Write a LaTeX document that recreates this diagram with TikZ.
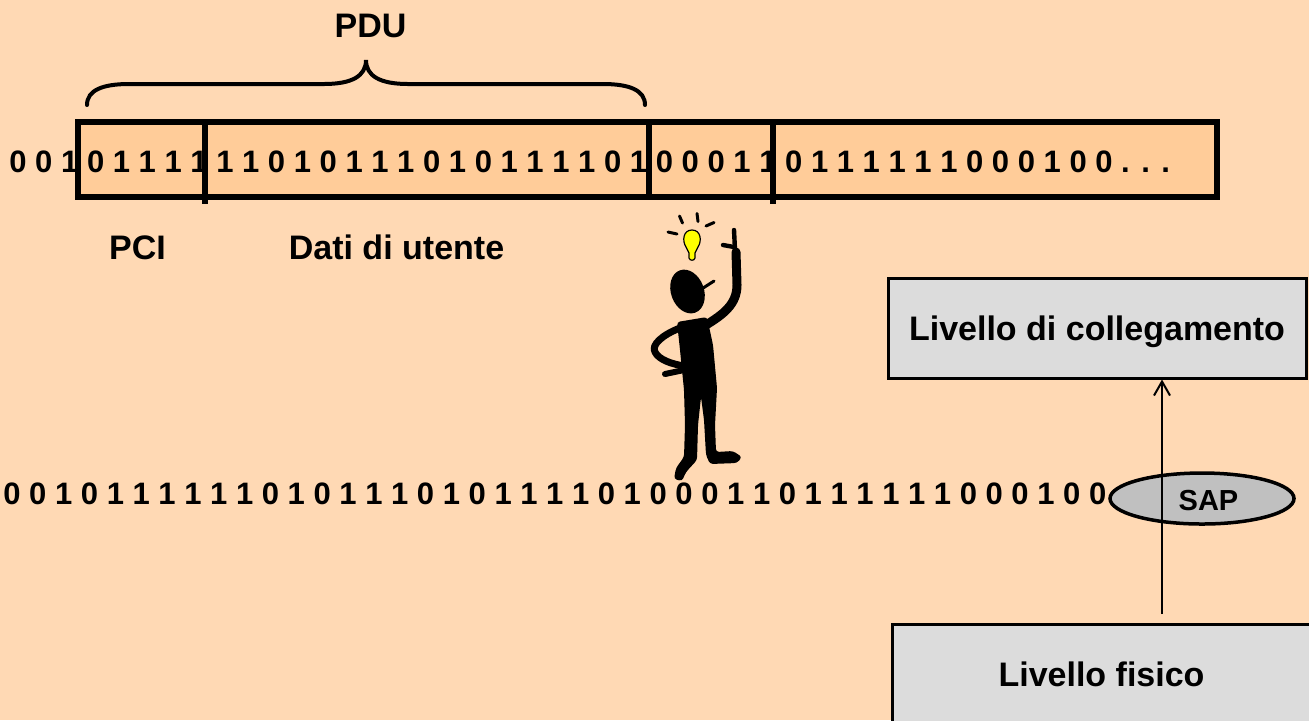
\documentclass[tikz,border=0pt]{standalone}
\usepackage{fontspec}
\setmainfont{Liberation Sans}
\usetikzlibrary{arrows.meta,shapes.geometric}
\definecolor{bgpeach}{RGB}{255,217,180}
\definecolor{cellfill}{RGB}{255,204,153}
\definecolor{boxgray}{RGB}{220,220,220}
\definecolor{sapgray}{RGB}{192,192,192}
\definecolor{bulbyellow}{RGB}{255,255,0}

\begin{document}
\begin{tikzpicture}[x=0.5pt,y=-0.5pt,
  bits/.style={font=\fontsize{15.5}{18}\selectfont\bfseries, inner sep=0pt, anchor=base west},
  tag/.style={font=\fontsize{17}{20}\selectfont\bfseries, inner sep=0pt, anchor=base},
  layer/.style={draw=black, line width=1.5pt, fill=boxgray,
    font=\fontsize{17}{20}\selectfont\bfseries, minimum width=209pt,
    minimum height=50pt, inner sep=0pt, text depth=0pt},
  frameline/.style={line width=3pt},
  limb/.style={line cap=round, line join=round},
]
\useasboundingbox (0,0) rectangle (1309,720);
\clip (0,0) rectangle (1309,720);
\fill[bgpeach] (0,0) rectangle (1309,720);

% frame of the received bit sequence
\fill[cellfill] (78,122) rectangle (1217,197);
\draw[frameline] (78,122) rectangle (1217,197);
\draw[frameline] (205,122) -- (205,204);
\draw[frameline] (649,122) -- (649,197);
\draw[frameline] (773,122) -- (773,204);

% bits, grouped by field
\node[bits] (lead)  at (9,172)     {0 0 1};
\node[bits] (pcib)  at (86.6,172)  {0 1 1 1 1};
\node[bits] (datab) at (215.9,172) {1 1 0 1 0 1 1 1 0 1 0 1 1 1 1 0 1};
\node[bits] (nextb) at (655.5,172) {0 0 0 1 1};
\node[bits] (restb) at (784.8,172) {0 1 1 1 1 1 1 0 0 0 1 0 0 . . .};

% brace over the PDU
\draw[line width=2pt, line cap=round] (87,105) .. controls (87,90) and (103,84) .. (129,84)
  -- (324,84) .. controls (352,84) and (366,76) .. (366,60)
  .. controls (366,76) and (380,84) .. (408,84)
  -- (603,84) .. controls (629,84) and (645,90) .. (645,105);

\node[tag] (pdu)  at (370.5,37)  {PDU};
\node[tag] (pci)  at (137.5,259) {PCI};
\node[tag] (dati) at (396.5,259) {Dati di utente};

% raw bit stream
\node[bits] (stream) at (3,504) {0 0 1 0 1 1 1 1 1 1 0 1 0 1 1 1 0 1 0 1 1 1 1 0 1 0 0 0 1 1 0 1 1 1 1 1 1 0 0 0 1 0 0};

% layers and service access point
\node[layer] (coll) at (1097,328)   {Livello di collegamento};
\node[layer] (fis)  at (1101.5,674) {Livello fisico};
\node[ellipse, draw=black, line width=1.75pt, fill=sapgray, minimum width=92pt,
      minimum height=25.5pt, inner sep=0pt] (sap) at (1202,498.5) {};
\node[font=\fontsize{14.5}{17}\selectfont\bfseries, inner sep=0pt, anchor=base] (saptext) at (1208.5,510) {SAP};
\coordinate (foot) at (1162,614);
\draw[line width=1pt, -{Straight Barb[length=7pt,width=8pt]}] (foot) -- (coll.south -| foot);

% the little man with an idea
\draw[line width=1.5pt, line cap=round] (668,232) -- (677,234);
\draw[line width=1.5pt, line cap=round] (679.5,216) -- (682.5,223);
\draw[line width=1.5pt, line cap=round] (697,213.5) -- (698,221.5);
\draw[line width=1.5pt, line cap=round] (706,226) -- (714,222.5);
\filldraw[fill=bulbyellow, line width=0.6pt] (686,247) .. controls (682,241) and (683,230) .. (692,230)
  .. controls (701,230) and (702,241) .. (698,247) -- (695,253) -- (695,258)
  .. controls (694,261) and (690,261) .. (689,258) -- (689,253) -- cycle;
\fill[rotate around={20:(687.5,291.5)}] (687.5,291.5) ellipse [x radius=16.5, y radius=22.5];
\draw[line width=1.5pt, line cap=round] (700,290) -- (714,281);
\fill[rounded corners=1.5pt] (677,322) -- (707,317) -- (713,345) -- (717,388)
  -- (715,425) -- (716,452) -- (733,451) -- (742,457) -- (737,463) -- (710,464)
  -- (706,455) -- (704,420) -- (701,397) -- (698,425) -- (697,460) -- (686,472)
  -- (682,481) -- (674,479) -- (676,468) -- (684,457) -- (685,425) -- (684,390)
  -- (680,350) -- cycle;
\draw[limb, line width=4.5pt] (706,325) .. controls (722,315) and (737,305) .. (737,285) -- (736,252);
\draw[limb, line width=2.2pt] (735,250) -- (734,230);
\draw[limb, line width=2.2pt] (734,247) -- (723,245);
\draw[limb, line width=3.5pt] (680,328) .. controls (662,335) and (651,345) .. (655,352)
  .. controls (659,360) and (672,364) .. (684,366);
\draw[limb, line width=3pt] (684,370) -- (665,374);
\end{tikzpicture}
\end{document}
